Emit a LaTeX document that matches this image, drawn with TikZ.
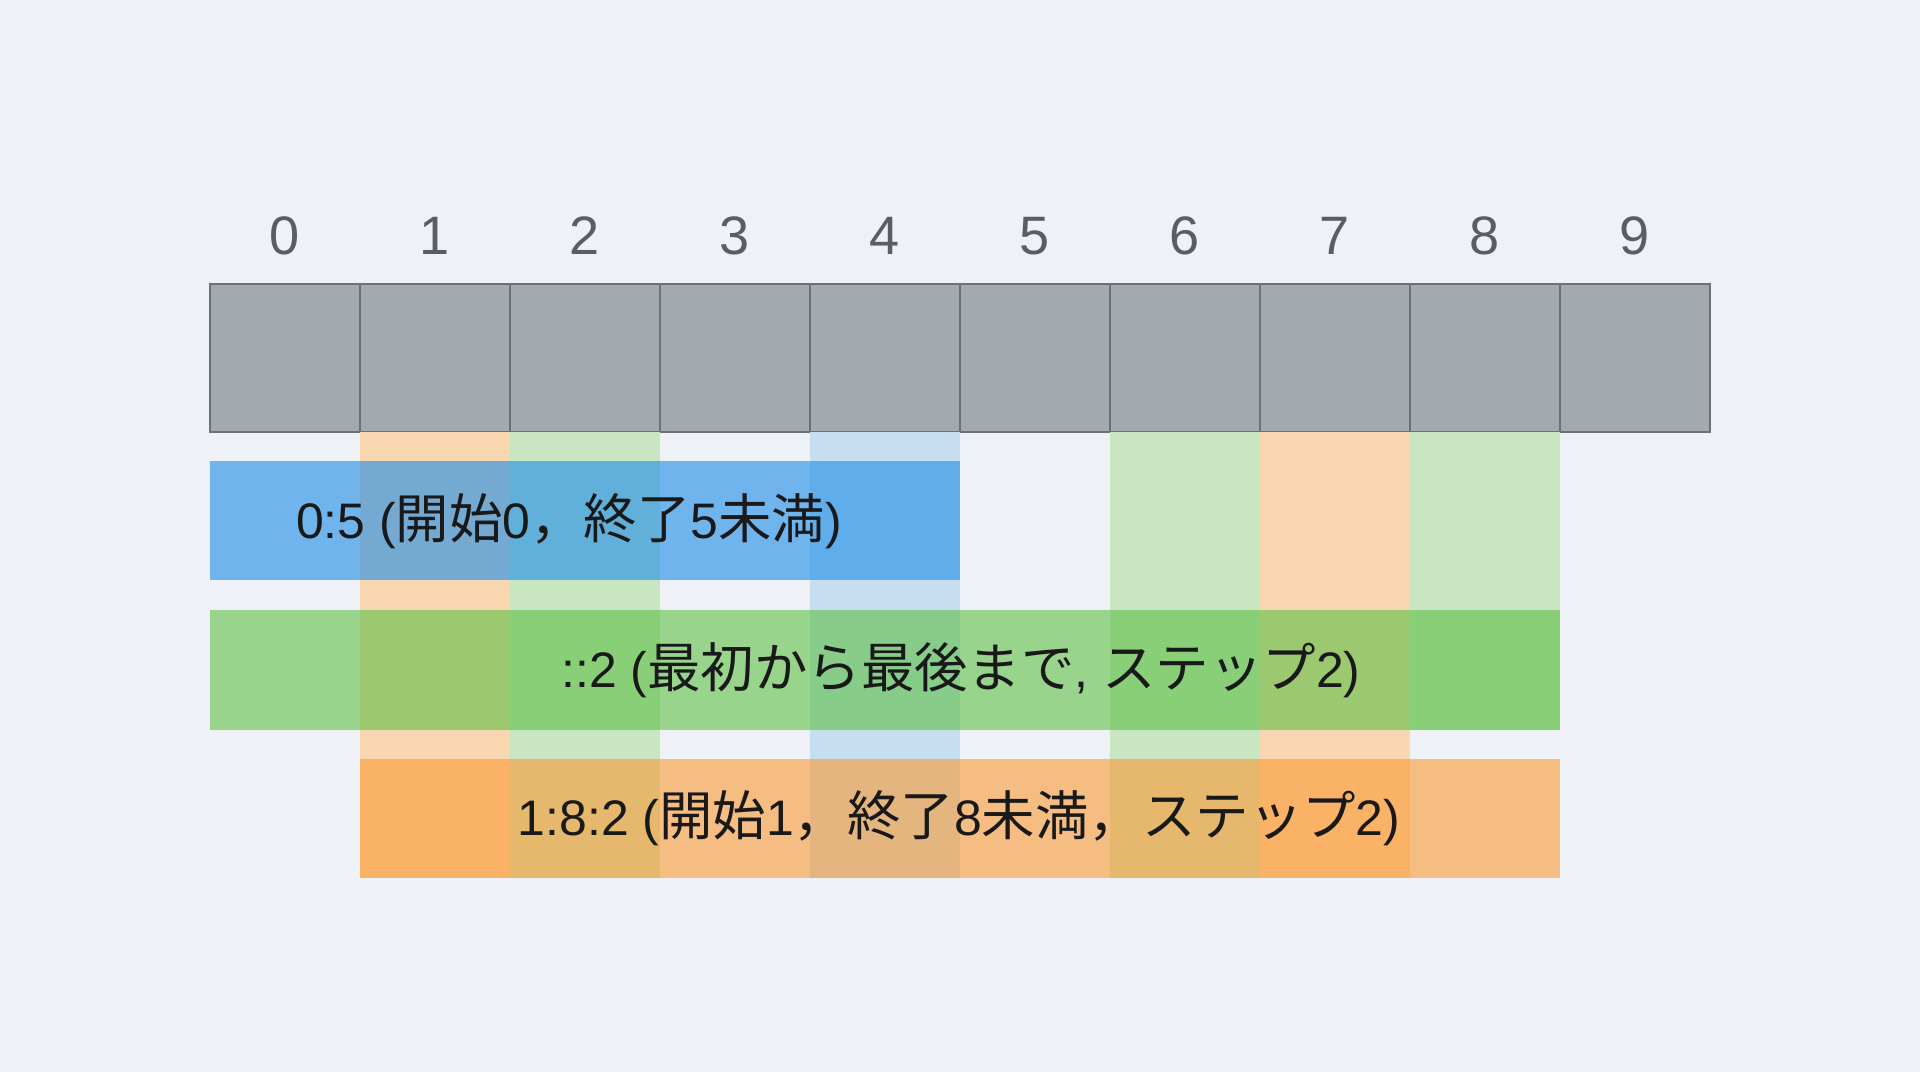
\documentclass[tikz,border=0pt]{standalone}
\usepackage{fontspec}
\setmainfont{Liberation Sans}
\newfontfamily\jpfont{Noto Sans CJK JP}
\newcommand{\jp}[1]{{\jpfont\fontsize{15.2}{18}\selectfont #1}}
\usetikzlibrary{positioning}
\definecolor{bgcol}{HTML}{EEF2F6}
\definecolor{cellgray}{HTML}{A2AAAE}
\definecolor{cellline}{HTML}{6C7173}
\definecolor{numgray}{HTML}{5A5E62}
\definecolor{barblue}{HTML}{1C8CE9}
\definecolor{bargreen}{HTML}{5FC045}
\definecolor{barorange}{HTML}{FA9A35}
\definecolor{stripblue}{HTML}{C6DFF0}
\definecolor{stripgreen}{HTML}{C9E6C3}
\definecolor{striporange}{HTML}{F8D6B0}
\begin{document}
\begin{tikzpicture}
		\tikzstyle{cell} = [draw=cellline, line width=0.8pt, fill=cellgray, minimum width=1.5cm, minimum height=1.48cm, inner sep=0]
		\tikzstyle{idx} = [text=numgray, font=\fontsize{15.4}{18}\selectfont, inner sep=0]
		\tikzstyle{bar} = [inner sep=0, minimum height=1.19cm, fill opacity=0.6]
		\tikzstyle{strip} = [inner sep=0, minimum width=1.5cm]
		\tikzstyle{label} = [text=black!90, font=\fontsize{14.2}{18}\selectfont, inner sep=0]
		\useasboundingbox (0,0) rectangle (19.2,-10.72);
		\fill [bgcol] (0,0) rectangle (19.2,-10.72);
		\node [cell] (c0) at (2.85,-3.58) {};
		\node [cell] (c1) at (4.35,-3.58) {};
		\node [cell] (c2) at (5.85,-3.58) {};
		\node [cell] (c3) at (7.35,-3.58) {};
		\node [cell] (c4) at (8.85,-3.58) {};
		\node [cell] (c5) at (10.35,-3.58) {};
		\node [cell] (c6) at (11.85,-3.58) {};
		\node [cell] (c7) at (13.35,-3.58) {};
		\node [cell] (c8) at (14.85,-3.58) {};
		\node [cell] (c9) at (16.35,-3.58) {};
		\node [idx] (n0) at (2.85,-2.36) {0};
		\node [idx] (n1) at (4.35,-2.36) {1};
		\node [idx] (n2) at (5.85,-2.36) {2};
		\node [idx] (n3) at (7.35,-2.36) {3};
		\node [idx] (n4) at (8.85,-2.36) {4};
		\node [idx] (n5) at (10.35,-2.36) {5};
		\node [idx] (n6) at (11.85,-2.36) {6};
		\node [idx] (n7) at (13.35,-2.36) {7};
		\node [idx] (n8) at (14.85,-2.36) {8};
		\node [idx] (n9) at (16.35,-2.36) {9};
		\node [strip, fill=striporange, minimum height=4.46cm] (s1) at (4.35,-6.55) {};
		\node [strip, fill=stripgreen, minimum height=4.46cm] (s2) at (5.85,-6.55) {};
		\node [strip, fill=stripblue, minimum height=4.46cm] (s4) at (8.85,-6.55) {};
		\node [strip, fill=stripgreen, minimum height=4.46cm] (s6) at (11.85,-6.55) {};
		\node [strip, fill=striporange, minimum height=4.46cm] (s7) at (13.35,-6.55) {};
		\node [strip, fill=stripgreen, minimum height=2.98cm] (s8) at (14.85,-5.81) {};
		\node [bar, fill=barblue, minimum width=7.5cm] (b1) at (5.85,-5.21) {};
		\node [bar, fill=bargreen, minimum width=13.5cm, minimum height=1.2cm] (b2) at (8.85,-6.70) {};
		\node [bar, fill=barorange, minimum width=12cm] (b3) at (9.60,-8.185) {};
		\node [label] (l1) at (5.69,-5.21) {0:5 (\jp{開始}0\jp{，終了}5\jp{未満})};
		\node [label] (l2) at (9.61,-6.70) {::2 (\jp{最初から最後まで}, \jp{ステップ}2)};
		\node [label] (l3) at (9.59,-8.185) {1:8:2 (\jp{開始}1\jp{，終了}8\jp{未満，ステップ}2)};
\end{tikzpicture}
\end{document}
